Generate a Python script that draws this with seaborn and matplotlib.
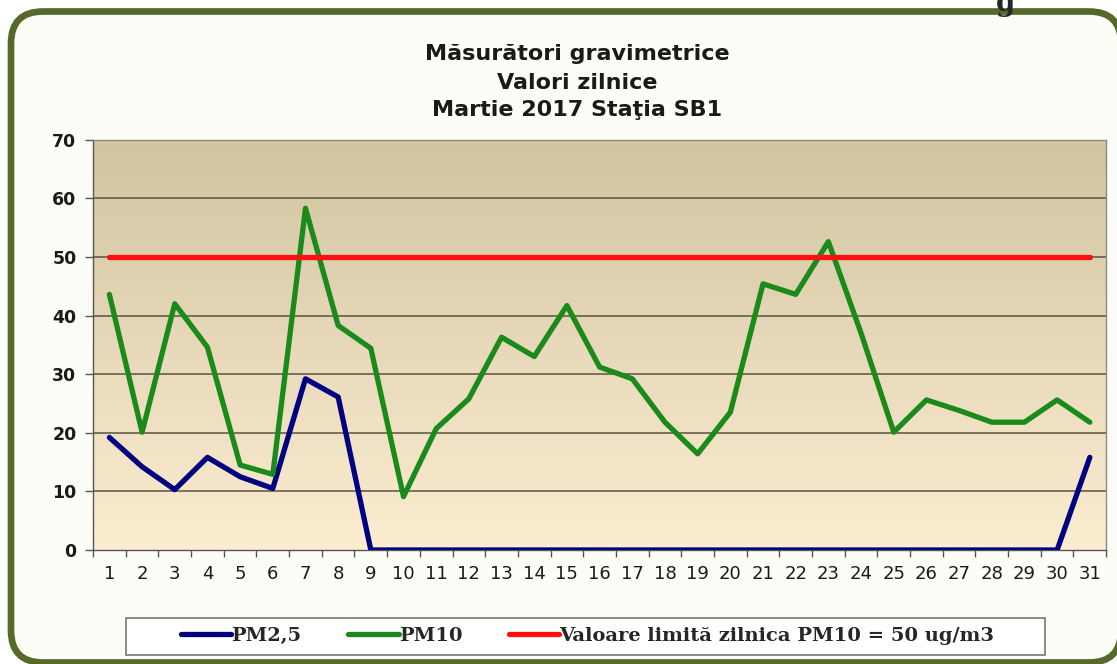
import numpy as np
import pandas as pd
import seaborn as sns
import matplotlib.pyplot as plt
from matplotlib.patches import FancyBboxPatch, Rectangle

# daily values, March 2017, station SB1
days = list(range(1, 32))
pm25 = [19.2, 14.2, 10.3, 15.8, 12.5, 10.5, 29.2, 26.1] + [0] * 22 + [15.8]
pm10 = [43.6, 20.1, 42.0, 34.6, 14.5, 12.9, 58.3, 38.3, 34.4, 9.1,
        20.7, 25.8, 36.3, 33.0, 41.7, 31.2, 29.2, 21.8, 16.4, 23.5,
        45.4, 43.6, 52.6, 37.0, 20.1, 25.6, 23.8, 21.8, 21.8, 25.6, 21.8]
limit = [50] * 31

series_names = ["PM2,5", "PM10", "Valoare limită zilnica PM10 = 50 ug/m3"]
series_colors = ["#000080", "#1a8a1a", "#ff1010"]
title_lines = ["Măsurători gravimetrice", "Valori zilnice", "Martie 2017 Staţia SB1"]

df = pd.DataFrame({"zi": days * 3,
                   "val": pm25 + pm10 + limit,
                   "serie": [series_names[0]] * 31 + [series_names[1]] * 31 + [series_names[2]] * 31})

sns.set_theme(style="white")
plt.rcParams['font.family'] = ['DejaVu Sans']

fig = plt.figure(figsize=(11.17, 6.64), dpi=100)
fig.patch.set_facecolor("white")

# rounded green frame (inches), runs off the right edge like the scan
frame = FancyBboxPatch((0.11, 0.015), 11.1, 6.51, boxstyle="round,pad=0,rounding_size=0.32",
                       transform=fig.dpi_scale_trans, facecolor="#fdfdf8", edgecolor="#56682a",
                       linewidth=4.8, zorder=-2)
fig.patches.append(frame)

ax = fig.add_axes([0.0833, 0.1717, 0.907, 0.618])

# gradient background of plot area
grad = np.linspace(0, 1, 256).reshape(-1, 1)
top_c = np.array([0.82, 0.77, 0.63])
bot_c = np.array([0.99, 0.93, 0.82])
img = top_c + (bot_c - top_c) * grad
ax.imshow(img[:, None, :].repeat(2, axis=1), extent=(0.5, 31.5, 0, 70), aspect="auto", zorder=0)

sns.lineplot(data=df, x="zi", y="val", hue="serie", palette=series_colors,
             linewidth=3.8, ax=ax, legend=True, zorder=3)

ax.set_xlim(0.5, 31.5)
ax.set_ylim(0, 70)
ax.set_yticks(range(0, 71, 10))
ax.set_xticks(days)
ax.set_xticklabels([str(d) for d in days], fontsize=13, color="#1a1a1a")
ax.set_yticklabels([str(v) for v in range(0, 71, 10)], fontsize=12.5, fontweight="bold", color="#1a1a1a")
ax.set_xticks(np.arange(0.5, 32, 1), minor=True)
ax.tick_params(axis="x", which="major", length=0, pad=11)
ax.tick_params(axis="x", which="minor", length=5, width=1, color="#555555", direction="out", bottom=True)
ax.tick_params(axis="y", length=6, width=1, color="#555555", direction="out", left=True, pad=6)
ax.set_xlabel("")
ax.set_ylabel("")
for y in range(10, 71, 10):
    ax.axhline(y, color="#5a5246", linewidth=1.1, zorder=1)
for s in ax.spines.values():
    s.set_color("#8a8a8a")
    s.set_linewidth(1)
ax.spines["left"].set_color("#555555")
ax.spines["bottom"].set_color("#555555")

for yy, line in zip([0.919, 0.875, 0.834], title_lines):
    fig.text(0.517, yy, line, ha="center", va="center", fontsize=16, fontweight="bold",
             color="#1a1a1a")

# legend below the plot, inside its own box
fig.patches.append(Rectangle((1.26, 0.09), 9.19, 0.37, transform=fig.dpi_scale_trans,
                             facecolor="white", edgecolor="#777777", linewidth=1.2, zorder=1))
handles, labels = ax.get_legend_handles_labels()
ax.get_legend().remove()
fig.legend(handles, labels, loc="center", bbox_to_anchor=(0.526, 0.042), ncol=3,
           frameon=False, prop={"family": "DejaVu Serif", "weight": "bold", "size": 14},
           handlelength=2.6, handletextpad=0.0, columnspacing=2.4)

fig.text(0.9, 0.995, "g", ha="center", va="center", fontsize=20, fontweight="bold",
         family="DejaVu Serif")

fig.savefig("out.png", dpi=100)
